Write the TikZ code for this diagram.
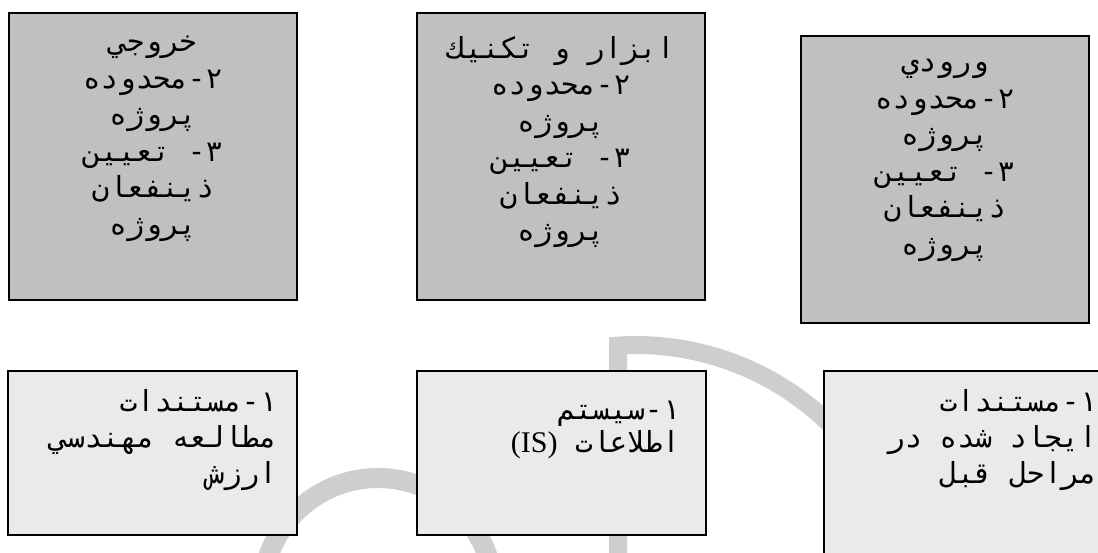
\documentclass[tikz,border=0pt]{standalone}
\usepackage{fontspec}
\usetikzlibrary{positioning}
\newfontfamily\farsifont[Script=Arabic]{DejaVu Sans Mono}
\newfontfamily\isfont{Liberation Serif}
\TeXXeTstate=1
\newcommand\fa[1]{\beginR#1\endR}
\newcommand\nd[1]{#1\kern0pt\relax-\kern0pt\relax}
\definecolor{topgray}{RGB}{192,192,192}
\definecolor{lowgray}{RGB}{234,234,234}
\definecolor{wmgray}{RGB}{206,206,206}
\begin{document}
\begin{tikzpicture}[x=1pt, y=-1pt,
  topbox/.style={draw, line width=2pt, fill=topgray, anchor=north west, minimum width=288pt, minimum height=287pt, inner sep=0pt},
  lowbox/.style={draw, line width=2pt, fill=lowgray, anchor=north west, minimum width=289pt, minimum height=164pt, inner sep=0pt},
  toptext/.style={align=center, inner sep=0pt, font=\farsifont\fontsize{29}{36.5}\selectfont},
  lowtext/.style={align=right, inner sep=0pt, font=\farsifont\fontsize{29}{36}\selectfont},
  wmark/.style={draw=wmgray, line width=20pt}]
\useasboundingbox (0,0) rectangle (1098,552);
\clip (0,0) rectangle (1098,552);
\draw[wmark] (378,594) circle (116);
\draw[wmark, line width=18pt] (618,570) -- (618,345.6) arc[start angle=-93.7, end angle=-10, radius=277];
\node[topbox] (outbox) at (8,12) {};
\node[topbox] (toolbox) at (416,12) {};
\node[topbox] (inbox) at (800,35) {};
\node[lowbox] (outdoc) at (7,370) {};
\node[lowbox] (tooldoc) at (416,370) {};
\node[lowbox, minimum width=296pt, minimum height=200pt] (indoc) at (823,370) {};
\node[toptext, below=24pt of outbox.north] (outtxt) {\fa{خروجي}\\ \fa{\nd{۲}محدوده}\\ \fa{پروژه}\\ \fa{\nd{۳} تعیین}\\ \fa{ذینفعان}\\ \fa{پروژه}};
\node[toptext, below=24pt of toolbox.north] (tooltxt) {\fa{ابزار و تکنیك}\\ \fa{\nd{۲}محدوده}\\ \fa{پروژه}\\ \fa{\nd{۳} تعیین}\\ \fa{ذینفعان}\\ \fa{پروژه}};
\node[toptext, below=24pt of inbox.north] (intxt) {\fa{ورودي}\\ \fa{\nd{۲}محدوده}\\ \fa{پروژه}\\ \fa{\nd{۳} تعیین}\\ \fa{ذینفعان}\\ \fa{پروژه}};
\node[lowtext, below left=19pt and 21pt of outdoc.north east] (outdoctxt) {\fa{\nd{۱}مستندات}\\ \fa{مطالعه مهندسي}\\ \fa{ارزش}};
\node[lowtext, below left=31pt and 27pt of tooldoc.north east] (tooldoctxt) {\fa{\nd{۱}سیستم}\\[-3pt] \fa{اطلاعات {\isfont\fontsize{30}{36}\selectfont\beginL(IS)\endL}}};
\node[lowtext, below left=19pt and 24pt of indoc.north east] (indoctxt) {\fa{\nd{۱}مستندات}\\ \fa{ایجاد شده در}\\ \fa{مراحل قبل}};
\end{tikzpicture}
\end{document}
